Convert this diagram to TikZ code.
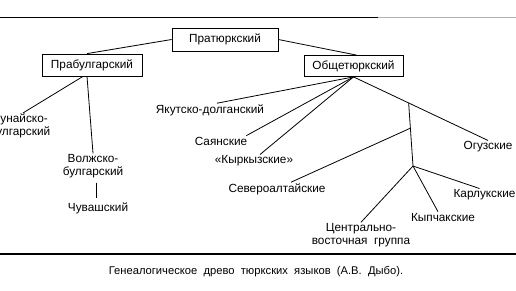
\documentclass[tikz,border=0pt]{standalone}
\usepackage{fontspec}
\setmainfont{Liberation Sans}
\usetikzlibrary{calc}

\begin{document}
\begin{tikzpicture}[
    x=1pt, y=-1pt,
    langbox/.style={draw, line width=0.8pt, minimum height=23pt, inner sep=2pt,
                    font=\fontsize{11.8}{12.5}\selectfont},
    lang/.style={align=center, inner sep=1pt, font=\fontsize{11.8}{12.5}\selectfont},
    tree/.style={line width=0.8pt}
]
\useasboundingbox (0,0) rectangle (516,290);

\draw[line width=0.9pt] (0,17) -- (378,17);
\draw[line width=0.7pt, gray!60] (378,17) -- (516,17);
\draw[line width=1.1pt] (0,254) -- (516,254);

\node[langbox, minimum width=106pt] (pratyurk) at (225,39.5) {Пратюркский};
\node[langbox, minimum width=100pt, minimum height=22pt] (prabulg) at (92,65) {Прабулгарский};
\node[langbox, minimum width=99pt, minimum height=21pt] (obshch) at (353.5,66) {Общетюркский};

\node[lang] (dunay)  at (20,126)   {Дунайско-\\булгарский};
\node[lang] (volzh)  at (93,166)   {Волжско-\\булгарский};
\node[lang] (chuv)   at (98,208)   {Чувашский};
\node[lang] (yakut)  at (210,110)  {Якутско-долганский};
\node[lang] (sayan)  at (221,141)  {Саянские};
\node[lang] (kyrk)   at (254,161)  {«Кыркызские»};
\node[lang] (sevalt) at (277,189)  {Североалтайские};
\node[lang] (ogus)   at (488,147)  {Огузские};
\node[lang] (centr)  at (361,235)  {Центрально-\\восточная\ \ группа};
\node[lang] (kypch)  at (443,217)  {Кыпчакские};
\node[lang] (karluk) at (484.5,195)  {Карлукские};

\coordinate (b1) at ($(obshch.south)!0.41!(ogus.north)$);
\coordinate (b3) at (413,166);
\coordinate (b2) at ($(b1)!0.4!(b3)$);

\draw[tree] (pratyurk.west) -- ([xshift=-5pt]prabulg.north);
\draw[tree] (pratyurk.east) -- ([xshift=3pt]obshch.north);
\draw[tree] ([xshift=-9pt]prabulg.south) -- ([xshift=3pt]dunay.north);
\draw[tree] ([xshift=-5pt]prabulg.south) -- (volzh.north);
\draw[tree, shorten <=4pt, shorten >=3pt] ([xshift=3pt]volzh.south) -- ([xshift=-2pt]chuv.north);
\draw[tree] (obshch.south) -- ([xshift=7pt]yakut.north);
\draw[tree] (obshch.south) -- ([xshift=-2pt]sayan.north east);
\draw[tree] (obshch.south) -- ([xshift=6pt]kyrk.north);
\draw[tree] (obshch.south) -- (ogus.north);
\draw[tree] (b1) -- (b3);
\draw[tree] (b2) -- ([xshift=14pt]sevalt.north);
\draw[tree] (b3) -- (centr.north);
\draw[tree] (b3) -- ([xshift=-5pt]kypch.north);
\draw[tree] (b3) -- ([xshift=-5pt]karluk.north);

\node[lang, font=\fontsize{11.2}{12}\selectfont] (caption) at (256,272)
    {Генеалогическое\ \ древо\ \ тюркских\ \ языков\ \ (А.В.\ \ Дыбо).};
\end{tikzpicture}
\end{document}
